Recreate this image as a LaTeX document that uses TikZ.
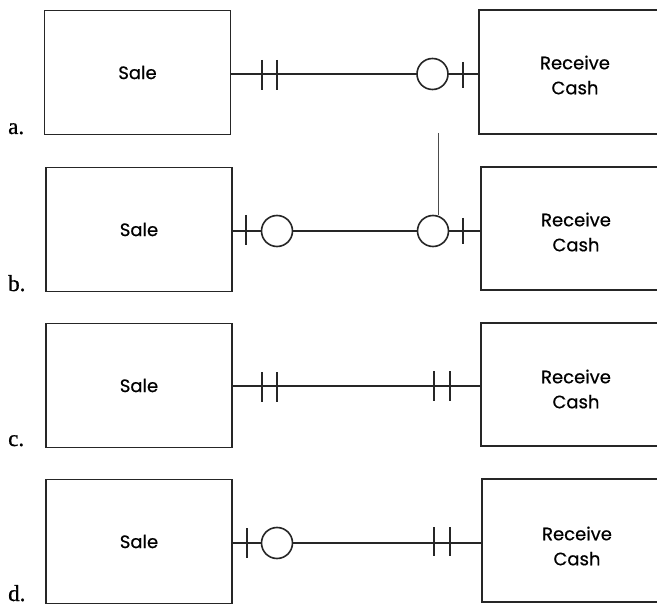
\documentclass[tikz,border=0pt]{standalone}
\usepackage{fontspec}
\setmainfont{Liberation Serif}
\newfontfamily\boxfont[FakeBold=0.6]{Poppins}
\newfontfamily\labfont[FakeBold=0.8]{Liberation Serif}
\begin{document}
\begin{tikzpicture}[x=1pt,y=-1pt,
  ent/.style={draw=black!85,line width=1.4pt,minimum width=186pt,minimum height=124pt,inner sep=0pt,
              font=\boxfont\fontsize{18}{25}\selectfont,align=center},
  enttext/.style={inner sep=0pt,font=\boxfont\fontsize{18}{25}\selectfont,align=center},
  rbox/.style={draw=black!85,line width=1.4pt},
  rel/.style={draw=black!85,line width=1.8pt},
  tick/.style={draw=black!85,line width=1.8pt},
  opt/.style={draw=black!85,line width=1.6pt,fill=white},
  lab/.style={anchor=base west,inner sep=0pt,font=\labfont\fontsize{23}{23}\selectfont}]
\useasboundingbox (0,0) rectangle (657,607);

% ---------- a ----------
\node[ent] (sa) at (137.5,72.5) {Sale};
\node[enttext] (ra) at (575,75) {Receive\\Cash};
\draw[rbox] (657,10) -- (479,10) -- (479,134) -- (657,134);
\coordinate (rae) at (479,74);
\node[lab] (la) at (8,134) {a.};
\draw[rel] (sa.east |- 0,74) -- (rae);
\draw[tick] (262,60) -- (262,90) (277,60) -- (277,90);
\node[opt,circle,minimum size=31pt,inner sep=0pt] (ca) at (432.5,74) {};
\draw[tick] (463,62) -- (463,88);

% ---------- b ----------
\node[ent] (sb) at (139,229.5) {Sale};
\node[enttext] (rb) at (576,232) {Receive\\Cash};
\draw[rbox] (657,167) -- (481,167) -- (481,290) -- (657,290);
\coordinate (rbe) at (481,231);
\node[lab] (lb) at (8,291) {b.};
\draw[rel] (sb.east |- 0,231) -- (rbe);
\draw[tick] (246,215) -- (246,245);
\node[opt,circle,minimum size=31pt,inner sep=0pt] (cb1) at (277,231) {};
\node[opt,circle,minimum size=31pt,inner sep=0pt] (cb2) at (433,231) {};
\draw[tick] (463,218) -- (463,244);
\coordinate (stray) at (438,133);
\draw[black!70,line width=0.7pt] (stray) -- (cb2.north -| stray);

% ---------- c ----------
\node[ent] (sc) at (139,385.5) {Sale};
\node[enttext] (rc) at (576,389) {Receive\\Cash};
\draw[rbox] (657,323) -- (481,323) -- (481,446) -- (657,446);
\coordinate (rce) at (481,386);
\node[lab] (lc) at (8,446) {c.};
\draw[rel] (sc.east |- 0,386) -- (rce);
\draw[tick] (262,372) -- (262,402) (277,372) -- (277,402);
\draw[tick] (434,371) -- (434,401) (450,371) -- (450,401);

% ---------- d ----------
\node[ent] (sd) at (139,541.5) {Sale};
\node[enttext] (rd) at (577,546) {Receive\\Cash};
\draw[rbox] (657,479) -- (482,479) -- (482,602) -- (657,602);
\coordinate (rde) at (482,543);
\node[lab] (ld) at (8,601) {d.};
\draw[rel] (sd.east |- 0,543) -- (rde);
\draw[tick] (247,528) -- (247,558);
\node[opt,circle,minimum size=31pt,inner sep=0pt] (cd) at (277,543) {};
\draw[tick] (434,527) -- (434,556) (450,527) -- (450,556);
\end{tikzpicture}
\end{document}
